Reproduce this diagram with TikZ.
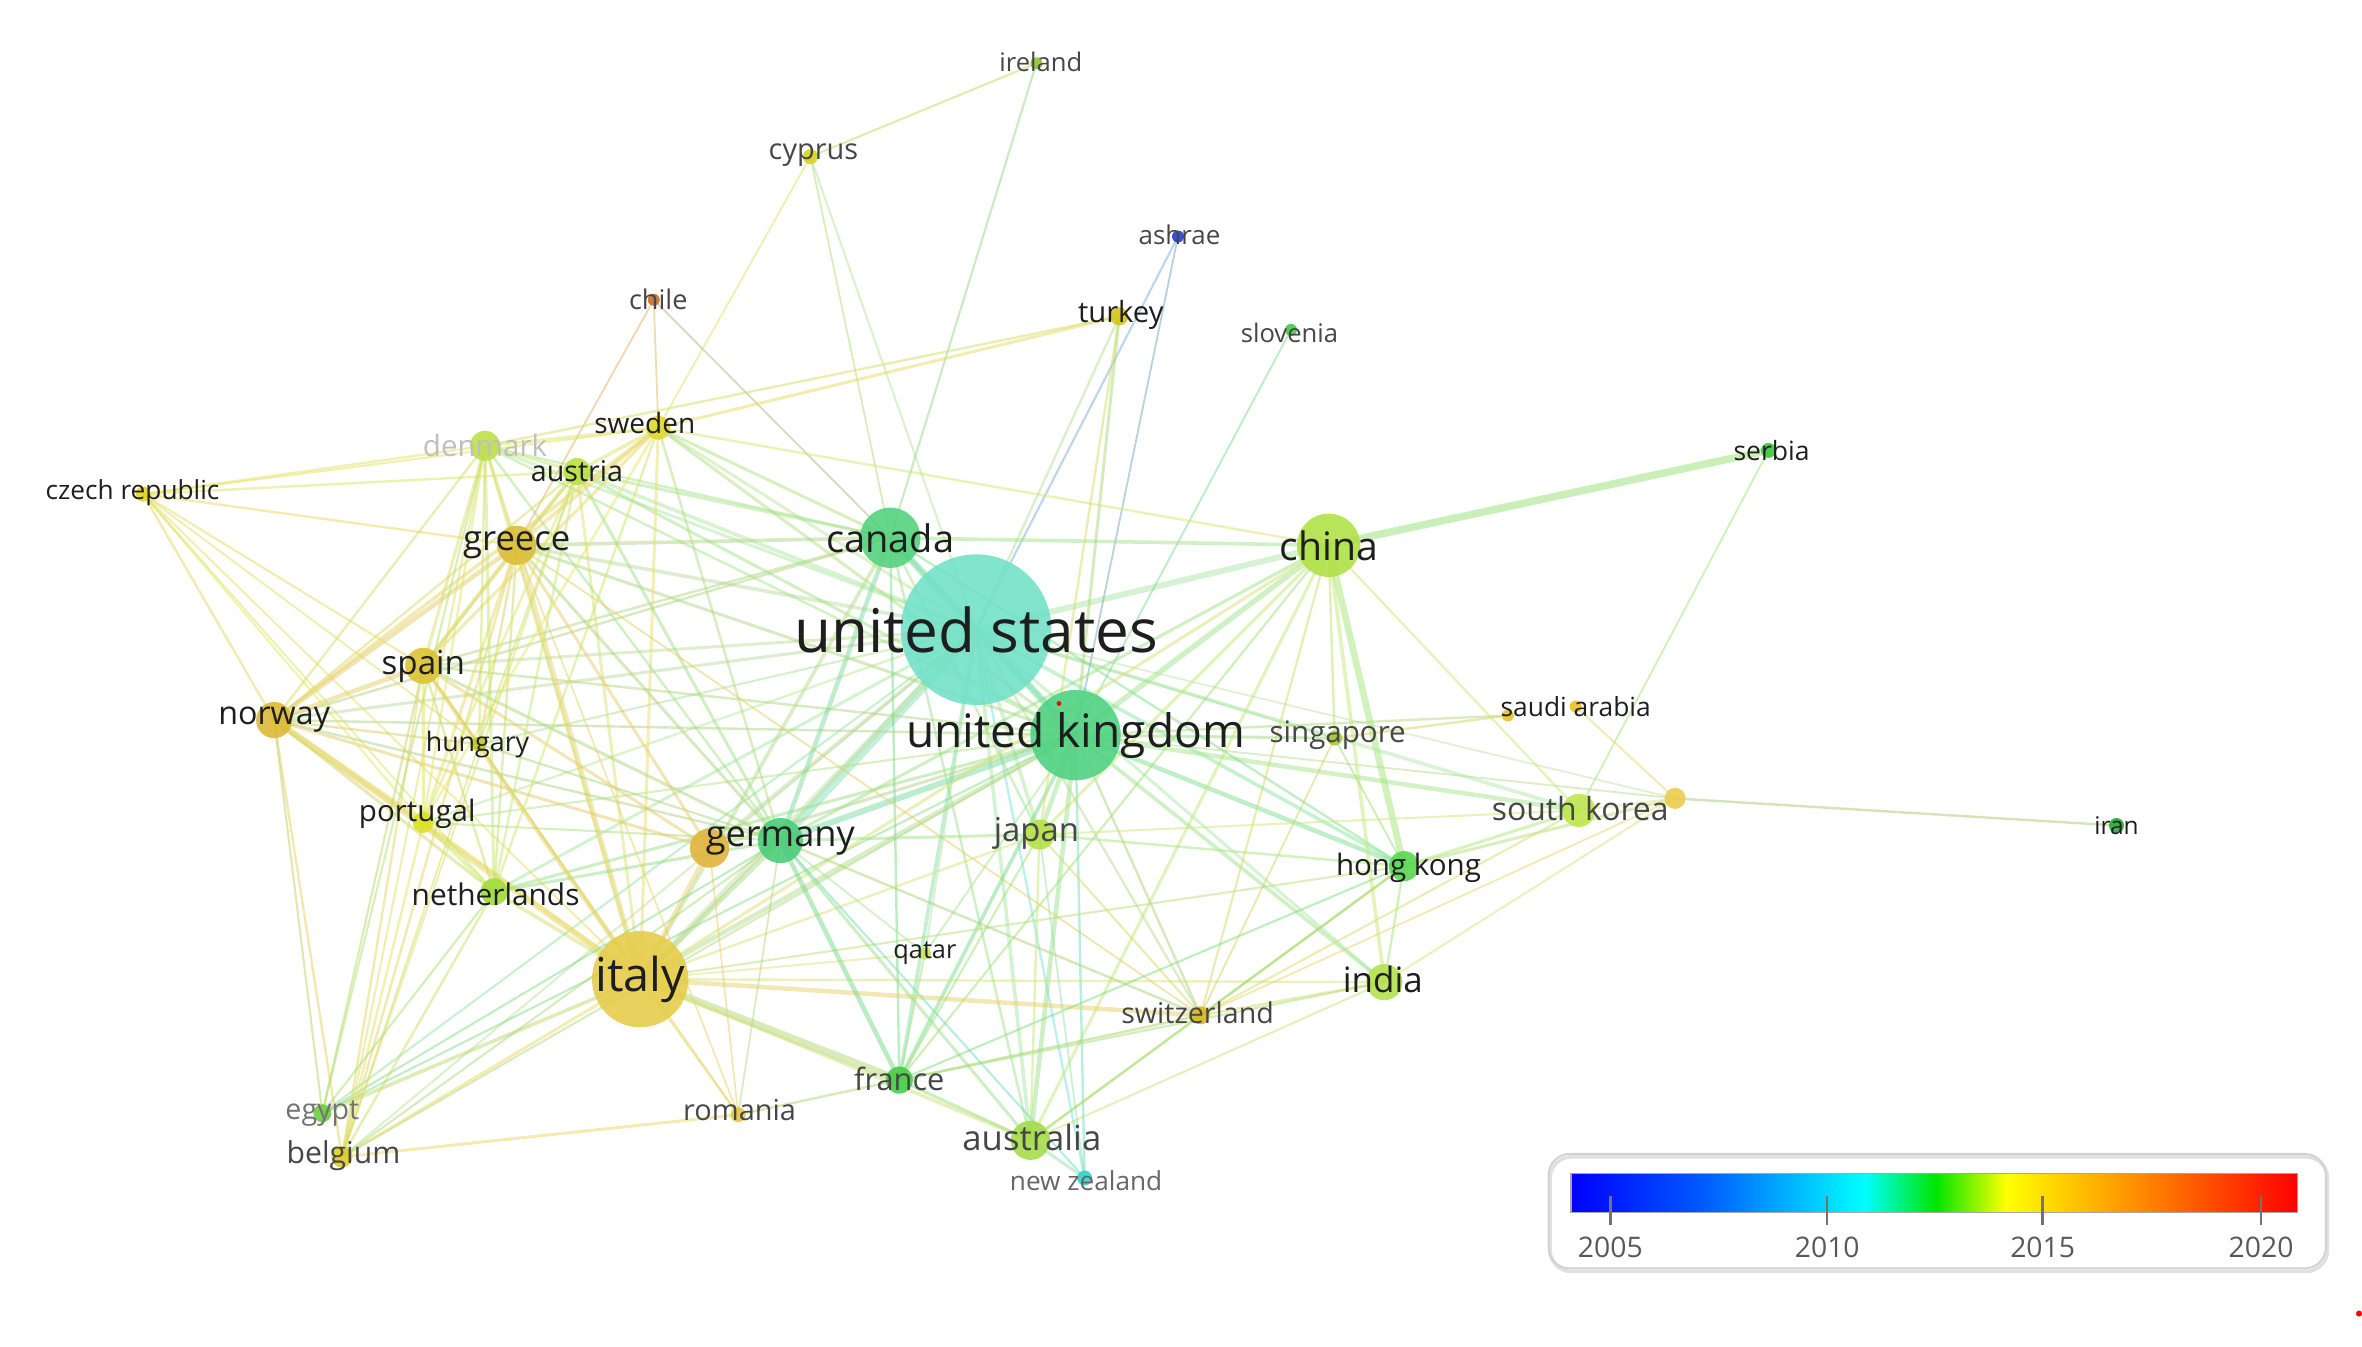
\documentclass[tikz,border=0pt]{standalone}
\usepackage{fontspec}
\setmainfont{Open Sans}
\newcommand\fs[1]{\fontsize{#1}{#1}\selectfont}
% node colours
\definecolor{cus}{RGB}{115,225,200}
\definecolor{cuk}{RGB}{80,210,130}
\definecolor{ccanada}{RGB}{85,210,125}
\definecolor{cchina}{RGB}{175,225,70}
\definecolor{citaly}{RGB}{230,205,75}
\definecolor{cgermany}{RGB}{75,205,120}
\definecolor{cgery}{RGB}{225,180,60}
\definecolor{cgreece}{RGB}{220,190,55}
\definecolor{cspain}{RGB}{220,195,50}
\definecolor{cnorway}{RGB}{220,185,55}
\definecolor{cdenmark}{RGB}{190,225,70}
\definecolor{caustria}{RGB}{185,225,70}
\definecolor{csweden}{RGB}{225,215,50}
\definecolor{cczech}{RGB}{225,215,30}
\definecolor{cserbia}{RGB}{60,200,60}
\definecolor{csaudi}{RGB}{230,195,40}
\definecolor{csaudib}{RGB}{230,195,40}
\definecolor{chungary}{RGB}{190,200,40}
\definecolor{csingapore}{RGB}{170,200,50}
\definecolor{cportugal}{RGB}{220,225,40}
\definecolor{cskorea}{RGB}{190,230,80}
\definecolor{cskx}{RGB}{235,205,80}
\definecolor{ciran}{RGB}{40,170,50}
\definecolor{cjapan}{RGB}{180,225,70}
\definecolor{chongkong}{RGB}{90,215,80}
\definecolor{cnetherlands}{RGB}{160,220,60}
\definecolor{cqatar}{RGB}{200,225,100}
\definecolor{cindia}{RGB}{180,225,80}
\definecolor{cswitzerland}{RGB}{215,185,30}
\definecolor{cfrance}{RGB}{70,205,70}
\definecolor{cegypt}{RGB}{110,205,60}
\definecolor{cromania}{RGB}{230,200,60}
\definecolor{caustralia}{RGB}{165,220,75}
\definecolor{cbelgium}{RGB}{220,205,40}
\definecolor{cnz}{RGB}{50,210,210}
\definecolor{cireland}{RGB}{140,195,50}
\definecolor{ccyprus}{RGB}{215,210,30}
\definecolor{cashrae}{RGB}{40,60,200}
\definecolor{cchile}{RGB}{200,110,40}
\definecolor{cturkey}{RGB}{215,195,30}
\definecolor{cslovenia}{RGB}{70,200,70}
\definecolor{txt}{RGB}{30,30,30}
\definecolor{txtg}{RGB}{70,70,70}
\begin{document}
\begin{tikzpicture}[x=0.5pt,y=-0.5pt,
  edge/.style={opacity=0.5, line cap=round},
  lbl/.style={inner sep=0pt, text=txt},
  lblg/.style={inner sep=0pt, text=txtg},
  tick/.style={draw=black!55, line width=0.8pt}]
\useasboundingbox (0,0) rectangle (1568,894);
% ---------- node positions
\coordinate (us) at (648,418);
\coordinate (uk) at (714,488);
\coordinate (canada) at (591,357);
\coordinate (china) at (882,362);
\coordinate (italy) at (425,650);
\coordinate (germany) at (518,558);
\coordinate (gery) at (471,563);
\coordinate (greece) at (343,362);
\coordinate (spain) at (281,442);
\coordinate (norway) at (182,478);
\coordinate (denmark) at (322,296);
\coordinate (austria) at (383,313);
\coordinate (sweden) at (437,284);
\coordinate (czech) at (95,328);
\coordinate (serbia) at (1174,299);
\coordinate (saudi) at (1046,469);
\coordinate (saudib) at (1001,475);
\coordinate (hungary) at (318,494);
\coordinate (singapore) at (886,490);
\coordinate (portugal) at (281,546);
\coordinate (skorea) at (1048,538);
\coordinate (skx) at (1112,530);
\coordinate (iran) at (1405,548);
\coordinate (japan) at (690,554);
\coordinate (hongkong) at (932,575);
\coordinate (netherlands) at (328,592);
\coordinate (qatar) at (614,633);
\coordinate (india) at (919,652);
\coordinate (switzerland) at (797,674);
\coordinate (france) at (597,717);
\coordinate (egypt) at (214,739);
\coordinate (romania) at (490,740);
\coordinate (australia) at (684,757);
\coordinate (belgium) at (227,768);
\coordinate (nz) at (720,782);
\coordinate (ireland) at (688,42);
\coordinate (cyprus) at (538,104);
\coordinate (ashrae) at (782,157);
\coordinate (chile) at (434,199);
\coordinate (turkey) at (743,210);
\coordinate (slovenia) at (857,219);
% ---------- edges
\foreach \a/\b/\w in {us/uk/2.5, us/canada/2.5, us/china/2, us/germany/3, us/italy/2, us/japan/1.2, us/france/1.2, us/australia/1.2, us/nz/0.8, us/greece/1.2, us/spain/1, us/sweden/1, us/austria/1.2, us/denmark/1, us/norway/1, us/portugal/0.8, us/netherlands/1, us/hungary/0.7, us/singapore/0.8, us/hongkong/1.2, us/india/1, us/skorea/1.2, us/switzerland/0.8, us/qatar/0.7, us/turkey/0.8, us/ashrae/0.7, us/cyprus/0.7, us/belgium/0.7, us/egypt/0.7, us/gery/1.2, us/skx/0.6}
  {\draw[edge, line width=\w pt, draw=c\a!50!c\b!75!white] (\a) -- (\b);}
\foreach \a/\b/\w in {uk/canada/1.5, uk/china/1.8, uk/germany/2, uk/italy/1.5, uk/japan/1.5, uk/france/1.2, uk/australia/1.5, uk/nz/0.8, uk/greece/1, uk/spain/0.8, uk/sweden/1, uk/austria/1, uk/denmark/0.8, uk/norway/0.8, uk/portugal/0.7, uk/netherlands/1, uk/singapore/1, uk/saudib/0.8, uk/hongkong/1.5, uk/india/1.2, uk/skorea/1.5, uk/switzerland/0.8, uk/qatar/0.7, uk/slovenia/0.6, uk/ashrae/0.6, uk/turkey/1, uk/belgium/0.7, uk/egypt/0.7, uk/skx/0.6, uk/gery/1}
  {\draw[edge, line width=\w pt, draw=c\a!50!c\b!75!white] (\a) -- (\b);}
\foreach \a/\b/\w in {canada/china/1.2, canada/germany/1.5, canada/italy/1.2, canada/greece/1.2, canada/sweden/1, canada/austria/1, canada/denmark/0.8, canada/ireland/0.7, canada/cyprus/0.6, canada/france/0.8, canada/australia/0.8, canada/japan/0.8, canada/hongkong/0.8, canada/norway/0.8, canada/spain/0.8, canada/chile/0.6, china/serbia/2.5, china/hongkong/2.2, china/singapore/0.8, china/india/1.2, china/skorea/0.8, china/australia/1, china/japan/1, china/germany/1, china/italy/1, china/switzerland/0.7, china/sweden/0.8, china/france/0.7}
  {\draw[edge, line width=\w pt, draw=c\a!50!c\b!75!white] (\a) -- (\b);}
\foreach \a/\b/\w in {italy/germany/1.8, italy/gery/1.5, italy/france/2.5, italy/greece/1.8, italy/spain/1.5, italy/norway/2, italy/portugal/1.5, italy/netherlands/1.2, italy/belgium/1, italy/egypt/1.2, italy/romania/0.8, italy/switzerland/1.5, italy/australia/1.2, italy/japan/0.8, italy/austria/1, italy/denmark/1, italy/sweden/1, italy/czech/0.7, italy/hungary/0.8, italy/qatar/0.7, italy/india/0.8, italy/hongkong/0.7}
  {\draw[edge, line width=\w pt, draw=c\a!50!c\b!75!white] (\a) -- (\b);}
\foreach \a/\b/\w in {germany/france/1.5, germany/australia/1, germany/nz/0.7, germany/japan/1, germany/netherlands/1, germany/spain/1, germany/greece/1, germany/austria/1, germany/denmark/0.8, germany/sweden/0.8, germany/norway/0.8, germany/portugal/0.7, germany/hungary/0.7, germany/belgium/0.7, germany/switzerland/0.8, germany/egypt/0.7, germany/romania/0.6, germany/qatar/0.6, gery/greece/1, gery/spain/1, gery/norway/1, gery/romania/0.6}
  {\draw[edge, line width=\w pt, draw=c\a!50!c\b!75!white] (\a) -- (\b);}
\foreach \a/\b/\w in {greece/norway/1.5, greece/spain/1.2, greece/czech/0.8, greece/denmark/1, greece/austria/1.2, greece/sweden/1.2, greece/portugal/1, greece/netherlands/0.8, greece/hungary/0.8, greece/belgium/0.8, greece/chile/0.6, greece/switzerland/0.6, norway/czech/0.8, norway/spain/1.5, norway/portugal/2, norway/belgium/0.8, norway/egypt/0.7, norway/denmark/0.8, norway/sweden/1.2, norway/hungary/0.8, norway/netherlands/1, norway/austria/0.8}
  {\draw[edge, line width=\w pt, draw=c\a!50!c\b!75!white] (\a) -- (\b);}
\foreach \a/\b/\w in {czech/denmark/0.8, czech/austria/0.8, czech/spain/0.7, czech/portugal/0.7, czech/hungary/0.6, czech/netherlands/0.6, czech/sweden/0.7, belgium/spain/0.8, belgium/portugal/0.8, belgium/romania/1, belgium/netherlands/0.8, belgium/denmark/0.7, belgium/austria/0.7, belgium/hungary/0.6, egypt/netherlands/0.7, egypt/spain/0.7, egypt/denmark/0.7, romania/france/0.8, romania/spain/0.6, romania/greece/0.6}
  {\draw[edge, line width=\w pt, draw=c\a!50!c\b!75!white] (\a) -- (\b);}
\foreach \a/\b/\w in {france/australia/1, france/switzerland/0.8, france/india/0.7, france/qatar/0.7, france/hongkong/0.7, france/japan/0.7, australia/nz/1, australia/switzerland/0.8, australia/japan/0.8, australia/hongkong/0.8, australia/india/0.7, nz/japan/0.6, japan/hongkong/0.8, japan/switzerland/0.7, japan/skorea/0.7, hongkong/skorea/1, hongkong/india/0.8, hongkong/switzerland/0.8, hongkong/skx/1, india/switzerland/0.8, india/skx/0.7}
  {\draw[edge, line width=\w pt, draw=c\a!50!c\b!75!white] (\a) -- (\b);}
\foreach \a/\b/\w in {skorea/serbia/0.6, skorea/skx/0.6, skorea/switzerland/0.7, skx/iran/0.8, skx/saudi/0.7, skx/switzerland/0.6, singapore/saudib/0.8, singapore/hongkong/0.6, singapore/switzerland/0.6, sweden/denmark/1, sweden/austria/1.2, sweden/chile/0.6, sweden/turkey/1, sweden/spain/1, sweden/netherlands/0.8, sweden/portugal/0.8, denmark/austria/1, denmark/spain/1, denmark/netherlands/1, denmark/portugal/0.8, denmark/hungary/0.8, denmark/turkey/0.8}
  {\draw[edge, line width=\w pt, draw=c\a!50!c\b!75!white] (\a) -- (\b);}
\foreach \a/\b/\w in {austria/spain/1, austria/portugal/0.8, austria/netherlands/0.8, austria/hungary/0.7, spain/portugal/1, spain/netherlands/0.8, spain/hungary/0.7, portugal/netherlands/1.2, ireland/cyprus/0.7, cyprus/sweden/0.6, turkey/japan/0.8}
  {\draw[edge, line width=\w pt, draw=c\a!50!c\b!75!white] (\a) -- (\b);}
% ---------- node circles
\foreach \n/\r in {us/50, uk/30, canada/20, china/21, italy/32, germany/15, gery/13, greece/13, spain/12, norway/12, denmark/10, austria/9, sweden/8, czech/5, serbia/5, saudi/4, saudib/4, hungary/5, singapore/5, portugal/7, skorea/11, skx/7, iran/5, japan/10, hongkong/10, netherlands/9, qatar/4, india/12, switzerland/6, france/9, egypt/6, romania/5, australia/13, belgium/7, nz/5, ireland/4, cyprus/5, ashrae/4, chile/4, turkey/6, slovenia/4}
  {\fill[c\n, fill opacity=0.9] (\n) circle[radius=\r];}
\fill[red] (703,467) circle[radius=1.6];
\fill[red] (1566,872) circle[radius=2];
% ---------- labels
\node[lbl, font=\fs{20}] (us-l) at (us) {united states};
\node[lbl, font=\fs{15.3}] (uk-l) at (uk) {united kingdom};
\node[lbl, font=\fs{12.6}] (canada-l) at (canada) {canada};
\node[lbl, font=\fs{13}] (china-l) at (china) {china};
\node[lbl, font=\fs{15.5}] (italy-l) at (italy) {italy};
\node[lbl, font=\fs{12}] (germany-l) at (germany) {germany};
\node[lbl, font=\fs{11.5}] (greece-l) at (greece) {greece};
\node[lbl, font=\fs{11}] (spain-l) at (spain) {spain};
\node[lbl, font=\fs{10.7}] (norway-l) at (norway) {norway};
\node[inner sep=0pt, text=black!25, font=\fs{9.8}] (denmark-l) at (denmark) {denmark};
\node[lbl, font=\fs{9.5}] (austria-l) at (austria) {austria};
\node[lbl, font=\fs{9.3}] (sweden-l) at (428,281) {sweden};
\node[lbl, font=\fs{8.7}] (czech-l) at (88,327) {czech republic};
\node[lbl, font=\fs{8.8}] (serbia-l) at (1176,299) {serbia};
\node[lbl, font=\fs{8.75}] (saudi-l) at (saudi) {saudi arabia};
\node[lbl, font=\fs{8.9}] (hungary-l) at (317,494) {hungary};
\node[lblg, font=\fs{9.8}] (singapore-l) at (888,488) {singapore};
\node[lbl, font=\fs{9.8}] (portugal-l) at (277,540) {portugal};
\node[lblg, font=\fs{10.6}] (skorea-l) at (1049,537) {south korea};
\node[lbl, font=\fs{8.1}] (iran-l) at (iran) {iran};
\node[lblg, font=\fs{10.9}] (japan-l) at (688,553) {japan};
\node[lbl, font=\fs{9.8}] (hongkong-l) at (935,576) {hong kong};
\node[lbl, font=\fs{9.9}] (netherlands-l) at (329,594) {netherlands};
\node[lbl, font=\fs{8.4}] (qatar-l) at (qatar) {qatar};
\node[lbl, font=\fs{11.6}] (india-l) at (918,650) {india};
\node[lblg, font=\fs{9.5}] (switzerland-l) at (795,672) {switzerland};
\node[lblg, font=\fs{10.2}] (france-l) at (597,716) {france};
\node[inner sep=0pt, text=black!55, font=\fs{9.5}] (egypt-l) at (214,739) {egypt};
\node[lblg, font=\fs{9.6}] (romania-l) at (491,737) {romania};
\node[lblg, font=\fs{11.5}] (australia-l) at (685,755) {australia};
\node[lblg, font=\fs{10}] (belgium-l) at (228,767) {belgium};
\node[inner sep=0pt, text=black!60, font=\fs{8.7}] (nz-l) at (721,784) {new zealand};
\node[lblg, font=\fs{8.5}] (ireland-l) at (691,41) {ireland};
\node[lblg, font=\fs{9.6}] (cyprus-l) at (540,103) {cyprus};
\node[lblg, font=\fs{8.6}] (ashrae-l) at (783,156) {ashrae};
\node[lblg, font=\fs{9}] (chile-l) at (437,199) {chile};
\node[lbl, font=\fs{9.7}] (turkey-l) at (744,209) {turkey};
\node[lblg, font=\fs{8.5}] (slovenia-l) at (856,221) {slovenia};
% ---------- legend
\draw[black!12, line width=1.2pt, rounded corners=7pt] (1029,768) rectangle (1545,844);
\draw[black!18, line width=0.6pt, rounded corners=7pt] (1028,766) rectangle (1544,842);
\shade[left color={rgb,255:red,0;green,0;blue,255}, right color={rgb,255:red,0;green,90;blue,255}] (1043,779) rectangle (1130,805);
\shade[left color={rgb,255:red,0;green,90;blue,255}, right color={rgb,255:red,0;green,255;blue,255}] (1130,779) rectangle (1238,805);
\shade[left color={rgb,255:red,0;green,255;blue,255}, right color={rgb,255:red,0;green,230;blue,0}] (1238,779) rectangle (1285,805);
\shade[left color={rgb,255:red,0;green,230;blue,0}, right color={rgb,255:red,255;green,255;blue,0}] (1285,779) rectangle (1332,805);
\shade[left color={rgb,255:red,255;green,255;blue,0}, right color={rgb,255:red,255;green,160;blue,0}] (1332,779) rectangle (1404,805);
\shade[left color={rgb,255:red,255;green,160;blue,0}, right color={rgb,255:red,255;green,0;blue,0}] (1404,779) rectangle (1525,805);
\draw[black!35, line width=0.5pt] (1043,779) rectangle (1525,805);
\foreach \x/\y in {1069/2005, 1213/2010, 1356/2015, 1501/2020}{
  \draw[tick] (\x,794) -- (\x,813);
  \node[inner sep=0pt, text=black!65, font=\fs{9.4}] (yr\y) at (\x,828) {\y};
}
\end{tikzpicture}
\end{document}
